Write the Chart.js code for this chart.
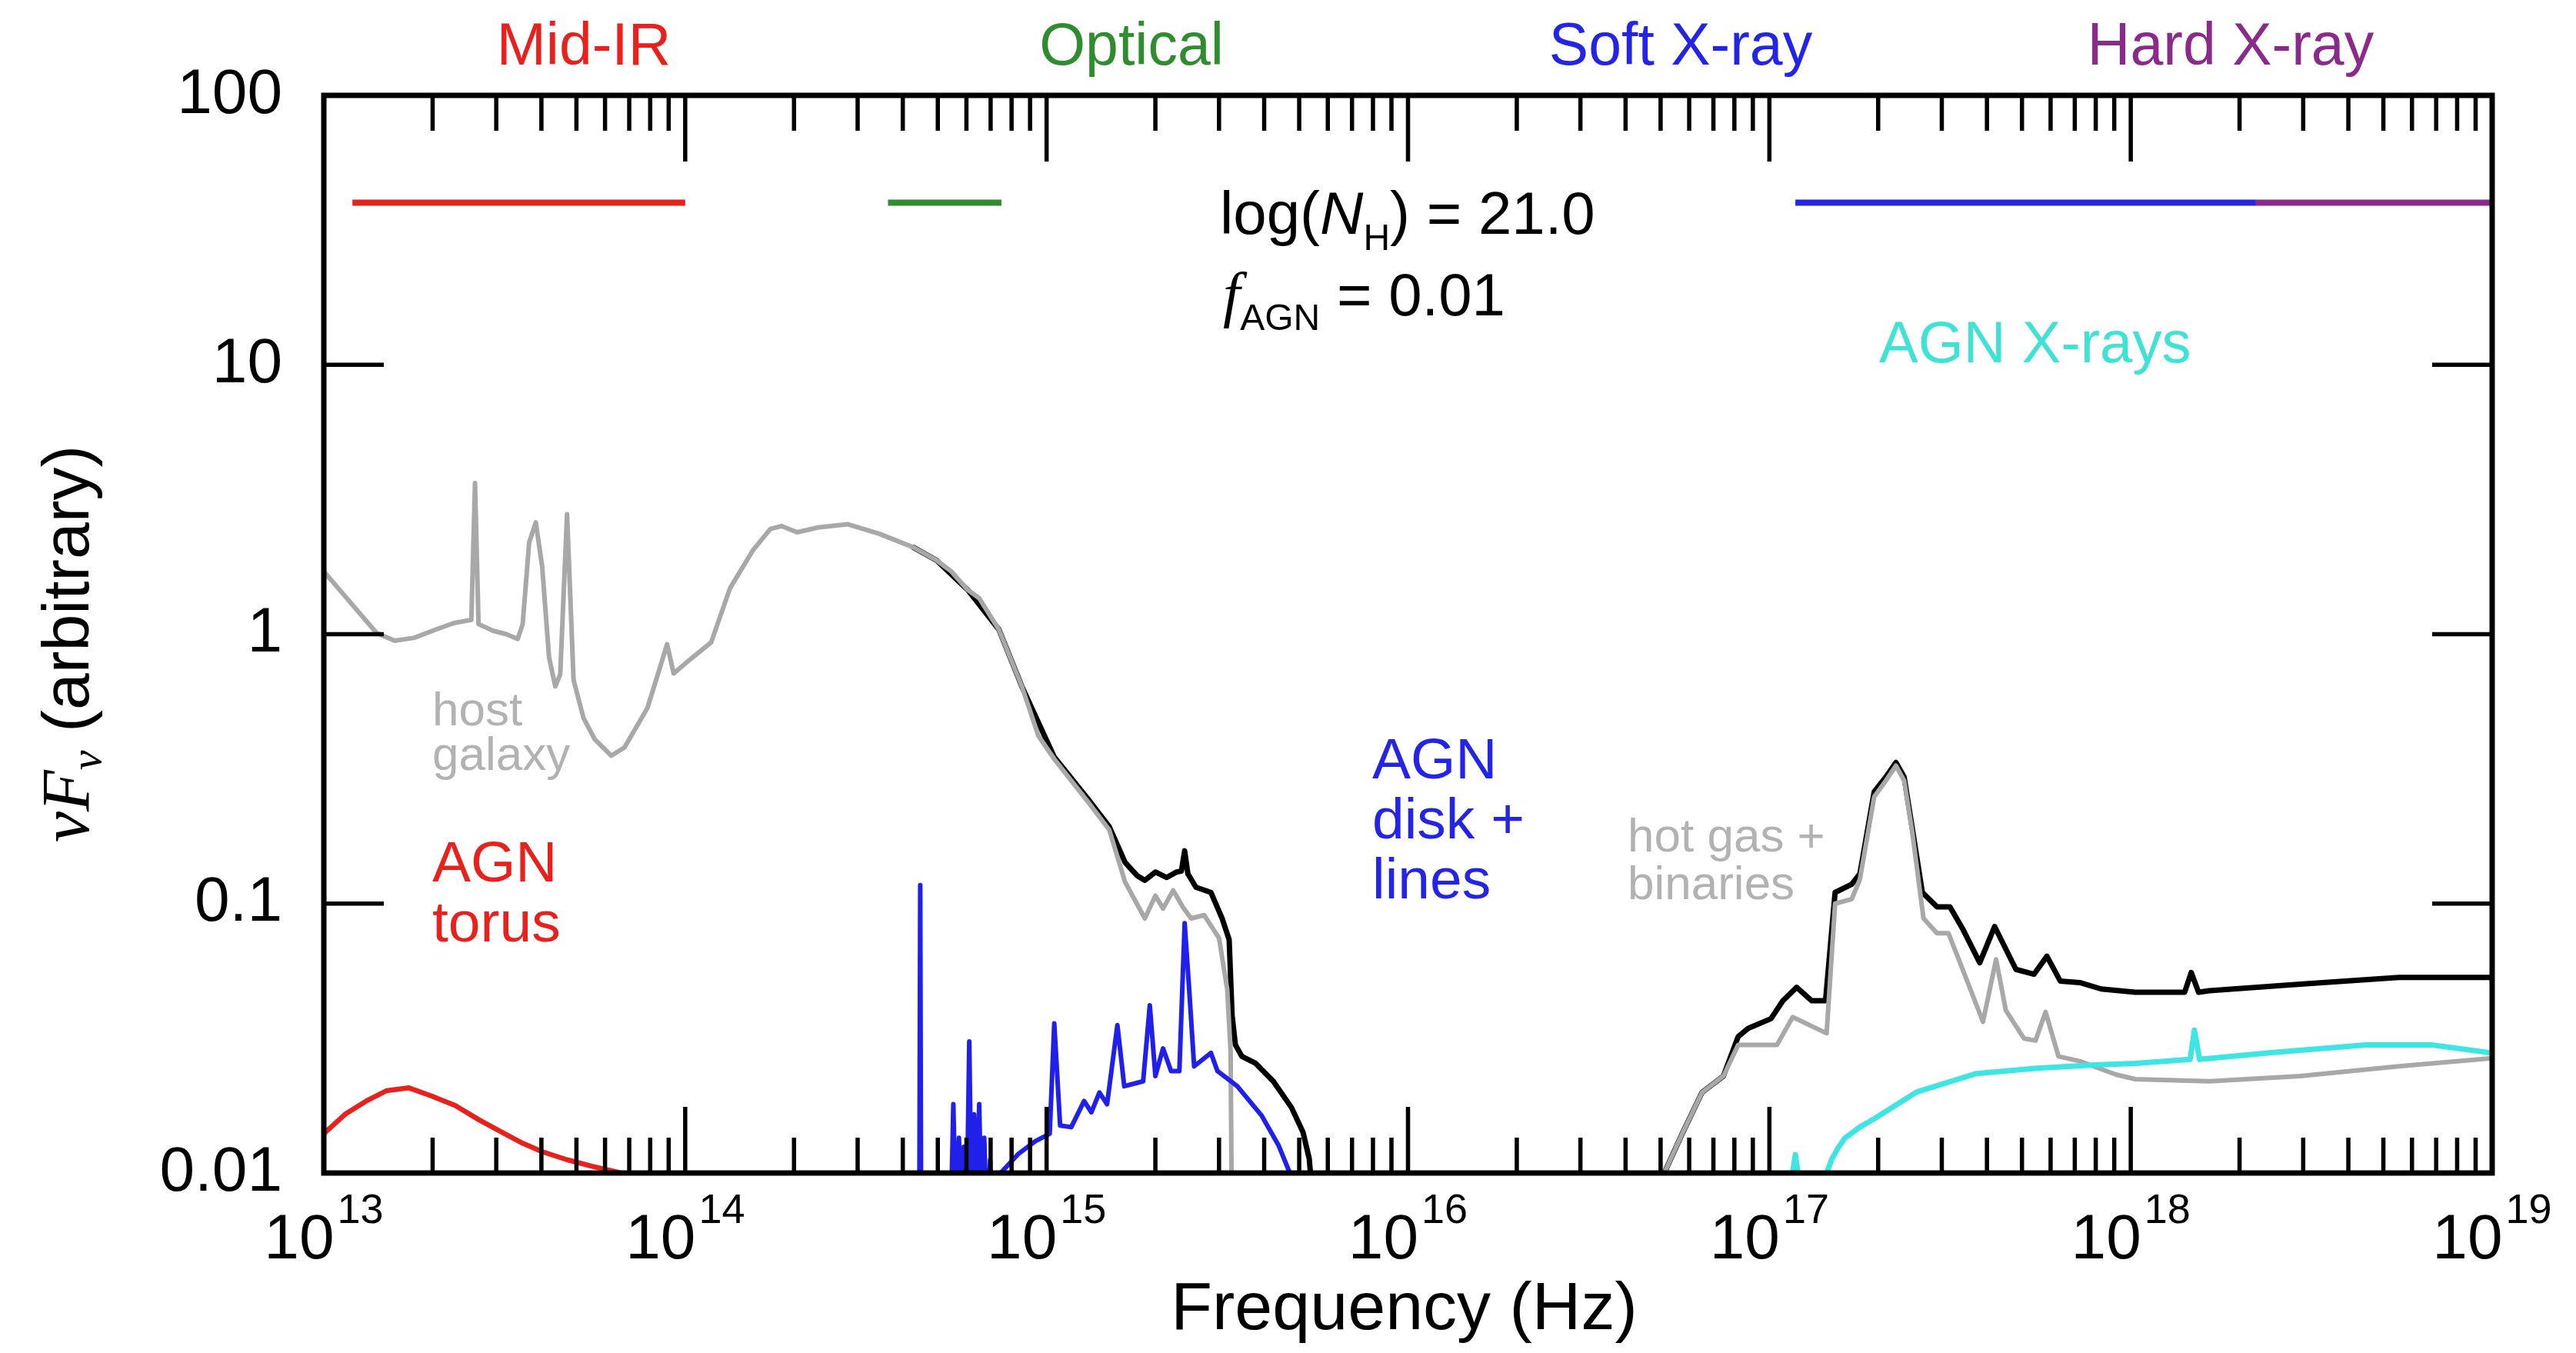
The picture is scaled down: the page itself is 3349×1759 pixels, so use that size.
<!DOCTYPE html>
<html>
<head>
<meta charset="utf-8">
<script src="https://cdn.jsdelivr.net/npm/chart.js@4.4.0/dist/chart.umd.min.js"></script>
<style>
  html, body { margin: 0; padding: 0; background: #fff; }
  canvas { display: block; }
</style>
</head>
<body>
<canvas id="sedChart" width="3349" height="1759"></canvas>
<script>
// frequency in Hz, nuFnu in arbitrary units
var hostNu = [
  1.0e13, 1.40e13, 1.57e13, 1.78e13, 2.04e13, 2.29e13, 2.56e13, 2.62e13, 2.68e13, 2.94e13,
  3.20e13, 3.44e13, 3.55e13, 3.70e13, 3.86e13, 4.02e13, 4.20e13, 4.37e13, 4.51e13, 4.71e13,
  4.91e13, 5.23e13, 5.62e13, 6.24e13, 6.79e13, 7.86e13, 8.91e13, 9.29e13, 1.05e14, 1.18e14,
  1.33e14, 1.54e14, 1.72e14, 1.85e14, 2.04e14, 2.33e14, 2.82e14, 3.44e14, 4.28e14, 4.96e14,
  5.45e14, 6.05e14, 6.51e14, 7.38e14, 8.55e14, 9.49e14, 1.05e15, 1.30e15, 1.49e15, 1.65e15,
  1.87e15, 2.0e15, 2.10e15, 2.24e15, 2.38e15, 2.51e15, 2.73e15, 3.0e15, 3.16e15, 3.23e15, 3.26e15
];
var hostFlux = [
  1.71, 1.01, 0.946, 0.97, 1.04, 1.10, 1.13, 3.64, 1.09, 1.03,
  1.0, 0.96, 1.09, 2.19, 2.60, 1.78, 0.82, 0.64, 0.71, 2.79,
  0.675, 0.489, 0.407, 0.354, 0.38, 0.532, 0.918, 0.715, 0.822, 0.933,
  1.48, 2.05, 2.46, 2.52, 2.39, 2.49, 2.56, 2.36, 2.10, 1.88,
  1.71, 1.46, 1.36, 1.04, 0.638, 0.419, 0.344, 0.239, 0.188, 0.120,
  0.0881, 0.107, 0.0959, 0.112, 0.0973, 0.0881, 0.0906, 0.0745, 0.0482, 0.0282, 0.005
];

var hotGasNu = [
  4.96e16, 5.12e16, 5.74e16, 6.51e16, 7.46e16, 8.20e16, 1.05e17, 1.16e17, 1.44e17, 1.52e17,
  1.69e17, 1.78e17, 1.95e17, 2.10e17, 2.24e17, 2.36e17, 2.48e17, 2.67e17, 2.91e17, 3.13e17,
  3.44e17, 3.90e17, 4.24e17, 4.51e17, 5.06e17, 5.45e17, 5.81e17, 6.31e17, 7.23e17, 9.10e17,
  1.03e18, 1.65e18, 2.94e18, 5.51e18, 1.0e19
];
var hotGasFlux = [
  0.008, 0.01, 0.014, 0.0199, 0.0229, 0.0299, 0.0299, 0.0379, 0.033, 0.1,
  0.104, 0.123, 0.249, 0.286, 0.325, 0.286, 0.188, 0.0881, 0.0776, 0.0776,
  0.0562, 0.0364, 0.0621, 0.0402, 0.0316, 0.031, 0.0396, 0.0271, 0.026, 0.0232,
  0.0223, 0.0219, 0.0229, 0.0249, 0.0267
];

var totalNu = [
  4.28e14, 4.96e14, 6.05e14, 7.38e14, 8.55e14, 1.05e15, 1.30e15, 1.49e15, 1.65e15, 1.78e15,
  1.87e15, 2.0e15, 2.15e15, 2.29e15, 2.36e15, 2.41e15, 2.46e15, 2.59e15, 2.85e15, 3.06e15,
  3.2e15, 3.26e15, 3.33e15, 3.47e15, 3.78e15, 4.24e15, 4.76e15, 5.12e15, 5.33e15, 5.45e15,
  4.96e16, 5.12e16, 5.74e16, 6.51e16, 7.46e16, 8.20e16, 8.73e16, 1.01e17, 1.09e17, 1.19e17,
  1.31e17, 1.43e17, 1.52e17, 1.69e17, 1.78e17, 1.95e17, 2.10e17, 2.24e17, 2.36e17, 2.48e17,
  2.65e17, 2.91e17, 3.16e17, 3.44e17, 3.82e17, 4.20e17, 4.81e17, 5.40e17, 5.86e17, 6.38e17,
  7.23e17, 8.28e17, 1.03e18, 1.41e18, 1.47e18, 1.54e18, 1.65e18, 2.94e18, 5.51e18, 1.0e19
];
var totalFlux = [
  2.10, 1.88, 1.46, 1.04, 0.638, 0.35, 0.245, 0.193, 0.142, 0.127,
  0.122, 0.131, 0.125, 0.131, 0.132, 0.157, 0.129, 0.115, 0.110, 0.088,
  0.0735, 0.0385, 0.0299, 0.0271, 0.0256, 0.0219, 0.0175, 0.0142, 0.0113, 0.008,
  0.008, 0.01, 0.014, 0.0199, 0.0229, 0.0321, 0.0344, 0.0374, 0.0436, 0.0489,
  0.0436, 0.0436, 0.110, 0.118, 0.129, 0.26, 0.295, 0.334, 0.295, 0.194,
  0.110, 0.0973, 0.0973, 0.0798, 0.0603, 0.0822, 0.057, 0.0547, 0.0638, 0.0516,
  0.0509, 0.0482, 0.0469, 0.0469, 0.0555, 0.0469, 0.0475, 0.0502, 0.0532, 0.0532
];

var diskNu = [
  4.44e14, 4.47e14, 4.50e14, 5.39e14, 5.52e14, 5.62e14, 5.72e14, 5.80e14, 5.90e14, 6.02e14,
  6.11e14, 6.20e14, 6.30e14, 6.40e14, 6.51e14, 6.60e14, 6.72e14, 6.85e14, 6.98e14, 7.12e14,
  7.30e14, 7.46e14, 8.37e14, 9.29e14, 1.02e15, 1.05e15, 1.09e15, 1.17e15, 1.27e15, 1.33e15,
  1.40e15, 1.47e15, 1.57e15, 1.64e15, 1.85e15, 1.93e15, 2.0e15, 2.10e15, 2.21e15, 2.33e15,
  2.41e15, 2.48e15, 2.56e15, 2.85e15, 2.97e15, 3.37e15, 3.94e15, 4.38e15, 4.71e15, 4.86e15
];
var diskFlux = [
  0.004, 0.117, 0.004, 0.004, 0.018, 0.006, 0.0135, 0.007, 0.0125, 0.008,
  0.0308, 0.007, 0.0165, 0.008, 0.018, 0.007, 0.0135, 0.006, 0.0112, 0.005,
  0.0095, 0.010, 0.0118, 0.0131, 0.014, 0.0359, 0.015, 0.0148, 0.0185, 0.0168,
  0.0199, 0.018, 0.0354, 0.021, 0.0219, 0.0419, 0.0229, 0.029, 0.0239, 0.0239,
  0.0845, 0.0482, 0.0249, 0.0279, 0.0239, 0.021, 0.0163, 0.0127, 0.010, 0.008
];

var torusNu = [1.0e13, 1.15e13, 1.31e13, 1.49e13, 1.72e13, 1.97e13, 2.31e13, 2.70e13, 3.10e13, 3.55e13, 4.02e13, 4.71e13, 5.51e13, 6.44e13, 7.16e13];
var torusFlux = [0.014, 0.0166, 0.0185, 0.0202, 0.0207, 0.0194, 0.0178, 0.0157, 0.0142, 0.0129, 0.012, 0.0112, 0.0106, 0.0101, 0.0097];

var agnXrayNu = [
  1.13e17, 1.18e17, 1.23e17, 1.41e17, 1.44e17, 1.49e17, 1.55e17, 1.62e17, 1.78e17, 1.95e17,
  2.56e17, 3.74e17, 5.51e17, 7.94e17, 1.03e18, 1.46e18, 1.50e18, 1.55e18, 2.38e18, 4.47e18,
  6.79e18, 1.0e19
];
var agnXrayFlux = [
  0.008, 0.0117, 0.008, 0.008, 0.010, 0.0113, 0.0124, 0.0135, 0.0148, 0.0159,
  0.020, 0.0234, 0.0245, 0.0252, 0.0255, 0.0264, 0.0339, 0.0264, 0.0279, 0.0299,
  0.0299, 0.0279
];

// wavelength bands marked near the top
var bandNames = ['Mid-IR', 'Optical', 'Soft X-ray', 'Hard X-ray'];
var bandColors = ['#e8211d', '#2f8c2f', '#2424e6', '#8a2a8a'];
var bandFrom = [1.2e13, 3.64e14, 1.18e17, 2.22e18];
var bandTo = [1.0e14, 7.5e14, 2.22e18, 1.0e19];
var bandLevel = 40;

var xDecades = [13, 14, 15, 16, 17, 18, 19];
var yTickValues = [0.01, 0.1, 1, 10, 100];
var yTickLabels = ['0.01', '0.1', '1', '10', '100'];

var SANS = '"Liberation Sans", Arial, Helvetica, sans-serif';
var SERIF = '"Liberation Serif", "Times New Roman", serif';

function pairs(nu, flux) {
  return nu.map(function(v, i) { return { x: v, y: flux[i] }; });
}

function line(data, color, width, order) {
  return { data: data, borderColor: color, borderWidth: width, order: order, clip: 0, fill: false };
}

// draws pieces of text one after another on the same baseline
function runText(ctx, x, y, runs) {
  runs.forEach(function(r) {
    ctx.font = r.font;
    ctx.fillStyle = r.color || '#000';
    ctx.fillText(r.text, x, y + (r.dy || 0));
    x += ctx.measureText(r.text).width;
  });
  return x;
}

var datasets = [
  line(pairs(agnXrayNu, agnXrayFlux), '#3fe4e4', 7, 1),
  line(pairs(diskNu, diskFlux), '#2020ea', 6, 2),
  line(pairs(torusNu, torusFlux), '#e8211d', 6.5, 3),
  line(pairs(hostNu, hostFlux), '#a8a8a8', 6, 4),
  line(pairs(hotGasNu, hotGasFlux), '#a8a8a8', 6, 4),
  line(pairs(totalNu, totalFlux), '#000000', 7, 6)
];
bandNames.forEach(function(name, i) {
  var ds = line([{ x: bandFrom[i], y: bandLevel }, { x: bandTo[i], y: bandLevel }], bandColors[i], 8, 0);
  ds.borderCapStyle = 'butt';
  datasets.push(ds);
});

var framePlugin = {
  id: 'frame',
  afterDatasetsDraw: function(chart) {
    var ctx = chart.ctx, a = chart.chartArea;
    var xs = chart.scales.x, ys = chart.scales.y;
    ctx.save();
    ctx.strokeStyle = '#000';
    ctx.lineCap = 'butt';

    // inward ticks on all four sides
    ctx.lineWidth = 5.5;
    ctx.beginPath();
    xDecades.forEach(function(e, i) {
      var px = xs.getPixelForValue(Math.pow(10, e));
      ctx.moveTo(px, a.bottom); ctx.lineTo(px, a.bottom - 86);
      ctx.moveTo(px, a.top); ctx.lineTo(px, a.top + 86);
      if (i === xDecades.length - 1) return;
      for (var m = 2; m <= 9; m++) {
        var pm = xs.getPixelForValue(m * Math.pow(10, e));
        ctx.moveTo(pm, a.bottom); ctx.lineTo(pm, a.bottom - 46);
        ctx.moveTo(pm, a.top); ctx.lineTo(pm, a.top + 46);
      }
    });
    yTickValues.forEach(function(v) {
      var py = ys.getPixelForValue(v);
      ctx.moveTo(a.left, py); ctx.lineTo(a.left + 78, py);
      ctx.moveTo(a.right, py); ctx.lineTo(a.right - 78, py);
    });
    ctx.stroke();
    ctx.lineWidth = 7;
    ctx.strokeRect(a.left, a.top, a.right - a.left, a.bottom - a.top);

    // tick labels
    ctx.fillStyle = '#000';
    ctx.textBaseline = 'middle';
    ctx.textAlign = 'right';
    ctx.font = '82px ' + SANS;
    yTickValues.forEach(function(v, i) {
      ctx.fillText(yTickLabels[i], a.left - 54, ys.getPixelForValue(v));
    });
    ctx.textAlign = 'left';
    xDecades.forEach(function(e) {
      var px = xs.getPixelForValue(Math.pow(10, e));
      ctx.font = '82px ' + SANS;
      var wb = ctx.measureText('10').width;
      ctx.font = '54px ' + SANS;
      var we = ctx.measureText(String(e)).width;
      var x0 = px - (wb + we + 4) / 2;
      ctx.font = '82px ' + SANS;
      ctx.fillText('10', x0, a.bottom + 88);
      ctx.font = '54px ' + SANS;
      ctx.fillText(String(e), x0 + wb + 4, a.bottom + 50);
    });

    // axis titles
    ctx.textBaseline = 'alphabetic';
    ctx.textAlign = 'center';
    ctx.font = '88px ' + SANS;
    ctx.fillText('Frequency (Hz)', (a.left + a.right) / 2 - 5, a.bottom + 203);
    ctx.textAlign = 'left';
    ctx.save();
    ctx.translate(115, 1095);
    ctx.rotate(-Math.PI / 2);
    runText(ctx, 0, 0, [
      { text: '\u03BD', font: 'italic 90px ' + SERIF },
      { text: 'F', font: 'italic 88px ' + SERIF },
      { text: '\u03BD', font: 'italic 58px ' + SERIF, dy: 16 },
      { text: ' (arbitrary)', font: '86px ' + SANS }
    ]);
    ctx.restore();

    // band names along the top
    var bandTextX = [759, 1471, 2185, 2900];
    ctx.textAlign = 'center';
    ctx.font = '77px ' + SANS;
    bandNames.forEach(function(name, i) {
      ctx.fillStyle = bandColors[i];
      ctx.fillText(name, bandTextX[i], 84);
    });
    ctx.textAlign = 'left';

    // model parameters
    runText(ctx, 1586, 304, [
      { text: 'log(', font: '78px ' + SANS },
      { text: 'N', font: 'italic 78px ' + SANS },
      { text: 'H', font: '48px ' + SANS, dy: 21 },
      { text: ') = 21.0', font: '78px ' + SANS }
    ]);
    runText(ctx, 1590, 410, [
      { text: 'f', font: 'italic 80px ' + SERIF },
      { text: 'AGN', font: '48px ' + SANS, dy: 19 },
      { text: ' = 0.01', font: '78px ' + SANS }
    ]);

    // component labels
    var notes = [
      { lines: ['host', 'galaxy'], x: 562, y: 943, step: 58, size: 62, color: '#b2b2b2' },
      { lines: ['AGN', 'torus'], x: 562, y: 1146, step: 78, size: 75, color: '#e8211d' },
      { lines: ['AGN', 'disk +', 'lines'], x: 1784, y: 1012, step: 78, size: 75, color: '#2424e6' },
      { lines: ['hot gas +', 'binaries'], x: 2116, y: 1107, step: 62, size: 62, color: '#b2b2b2' },
      { lines: ['AGN X-rays'], x: 2443, y: 471, step: 0, size: 76, color: '#40e2d6' }
    ];
    notes.forEach(function(n) {
      ctx.font = n.size + 'px ' + SANS;
      ctx.fillStyle = n.color;
      n.lines.forEach(function(t, k) { ctx.fillText(t, n.x, n.y + k * n.step); });
    });
    ctx.restore();
  }
};

new Chart(document.getElementById('sedChart'), {
  type: 'line',
  data: { datasets: datasets },
  options: {
    responsive: false,
    devicePixelRatio: 1,
    animation: false,
    layout: { padding: { left: 421, top: 124, right: 109, bottom: 234 } },
    plugins: { legend: { display: false }, tooltip: { enabled: false } },
    elements: {
      point: { radius: 0, hoverRadius: 0 },
      line: { tension: 0, borderJoinStyle: 'round', borderCapStyle: 'round' }
    },
    scales: {
      x: { type: 'logarithmic', min: 1e13, max: 1e19, display: false },
      y: { type: 'logarithmic', min: 0.01, max: 100, display: false }
    }
  },
  plugins: [framePlugin]
});
</script>
</body>
</html>
